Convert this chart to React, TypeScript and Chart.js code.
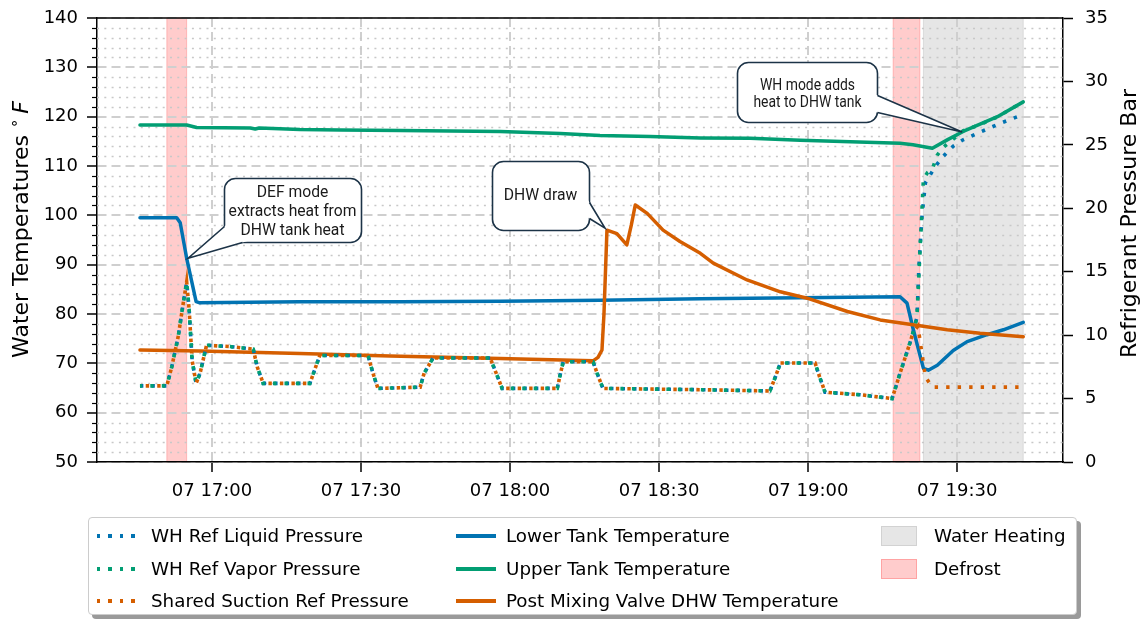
import React, { useEffect, useRef } from "react";
import { Chart, registerables } from "chart.js";

Chart.register(...registerables);

// ---------------- data (time = minutes after 16:00 on day 07) ----------------
const timeTicks = [60, 90, 120, 150, 180, 210];
const timeTickLabels = ["07 17:00", "07 17:30", "07 18:00", "07 18:30", "07 19:00", "07 19:30"];
const timeMin = 36.85;
const timeMax = 231.3;

const tempMin = 50;
const tempMax = 140;
const pressureMin = 0;
const pressureMax = 35;

// shared part of the three refrigerant pressure traces (bar)
const commonPressureTimes = [45.5, 50.9, 51.9, 53.2, 54.2, 54.9, 55.4, 56.0, 56.8, 57.6, 58.9, 63.6, 68.3, 69.1, 70.3, 79.7, 80.7, 81.7, 91.4, 92.4, 93.4, 101.9, 102.7, 104.5, 116.0, 117.2, 118.4, 129.5, 130.1, 130.7, 136.7, 137.7, 138.7, 158.3, 172.3, 173.4, 174.4, 181.4, 182.4, 183.4, 190.5, 196.9, 198.5, 200.5];
const commonPressure = [6.0, 6.0, 7.5, 9.9, 12.5, 14.2, 12.0, 8.0, 6.2, 7.0, 9.2, 9.1, 8.9, 7.5, 6.2, 6.2, 7.3, 8.4, 8.4, 7.0, 5.8, 5.9, 7.0, 8.2, 8.2, 7.0, 5.8, 5.8, 6.9, 7.9, 7.9, 6.8, 5.8, 5.7, 5.6, 6.7, 7.8, 7.8, 6.6, 5.5, 5.3, 5.0, 7.0, 9.4];

const liquidTailTimes = [201.1, 201.9, 202.3, 202.9, 203.6, 205.6, 207.2, 209.2, 211.2, 214.6, 218.7, 223.3];
const liquidTail = [10.2, 11.4, 15.4, 19.3, 22.0, 23.3, 24.1, 24.9, 25.4, 26.0, 26.7, 27.4];

const vaporTailTimes = [201.1, 201.9, 202.5, 203.2, 204.0, 205.0, 206.0, 207.2, 211.2, 214.6, 218.1, 223.3];
const vaporTail = [10.2, 11.4, 16.5, 22.3, 22.8, 23.1, 24.2, 24.8, 26.1, 26.6, 27.2, 28.4];

const suctionTailTimes = [201.1, 202.1, 203.6, 205.0, 223.3];
const suctionTail = [10.2, 10.7, 6.7, 5.9, 5.9];

// water temperatures (°F)
const lowerTankTimes = [45.5, 52.9, 53.6, 54.9, 56.8, 57.4, 77.7, 97.9, 118.0, 138.1, 158.3, 178.4, 198.5, 199.9, 201.2, 202.6, 203.2, 204.2, 206.0, 209.2, 212.0, 216.0, 219.3, 223.3];
const lowerTankTemp = [99.5, 99.5, 98.5, 91.3, 82.5, 82.3, 82.5, 82.5, 82.6, 82.8, 83.1, 83.3, 83.5, 82.2, 76.7, 71.3, 69.0, 68.6, 69.6, 72.6, 74.4, 75.8, 76.8, 78.3];

const upperTankTimes = [45.5, 54.9, 56.9, 67.7, 68.7, 69.5, 77.7, 85.8, 97.9, 118.0, 130.1, 138.1, 148.2, 158.3, 168.3, 178.4, 188.5, 198.5, 201.1, 205.0, 208.0, 211.2, 214.6, 218.1, 223.3];
const upperTankTemp = [118.3, 118.3, 117.8, 117.7, 117.5, 117.7, 117.4, 117.3, 117.2, 117.0, 116.6, 116.2, 116.0, 115.7, 115.6, 115.2, 114.9, 114.6, 114.3, 113.6, 115.3, 117.0, 118.5, 120.0, 123.0];

const postMixTimes = [45.5, 57.6, 77.7, 95.8, 118.0, 136.7, 137.7, 138.5, 138.9, 139.5, 141.5, 143.5, 144.4, 145.2, 147.6, 150.8, 154.2, 158.3, 160.9, 167.7, 174.4, 179.8, 187.9, 194.5, 201.1, 208.0, 214.6, 223.3];
const postMixTemp = [72.7, 72.5, 72.0, 71.5, 71.0, 70.5, 71.2, 72.7, 80.0, 97.0, 96.3, 94.0, 98.0, 102.1, 100.4, 97.0, 94.7, 92.3, 90.3, 86.9, 84.5, 83.2, 80.5, 78.8, 77.8, 76.8, 76.1, 75.4];

// operating-mode spans
const defrostStart = [50.9, 197.1];
const defrostEnd = [54.9, 202.5];
const waterHeatingStart = [203.2];
const waterHeatingEnd = [223.3];

// ---------------- styles ----------------
const BLUE = "#0173b2";
const GREEN = "#029e73";
const ORANGE = "#d55e00";
const TICK_FONT = "DejaVu Sans";
const CALLOUT_BORDER = "#1c3347";

const callouts = [
  { lines: ["DEF mode", "extracts heat from", "DHW tank heat"], t: 62.42, temp: 107.57, w: 137, h: 64, tipT: 55.2, tipTemp: 91.3, base: [[0, 48], [18, 64]], textX: 68, textY: [14, 33, 52], fontSize: 16.5, squeeze: 0.95 },
  { lines: ["DHW draw"], t: 116.38, temp: 111.01, w: 97, h: 69, tipT: 139.1, tipTemp: 97.4, base: [[97, 41], [97, 57]], textX: 48, textY: [34], fontSize: 16.5, squeeze: 0.95 },
  { lines: ["WH mode adds", "heat to DHW tank"], t: 165.7, temp: 131.08, w: 140, h: 60, tipT: 211.0, tipTemp: 116.9, base: [[140, 33], [140, 50]], textX: 70, textY: [23.7, 40.3], fontSize: 16, squeeze: 0.87 },
];

const pts = (ts: number[], vs: number[]) => ts.map((t, i) => ({ x: t, y: vs[i] }));

function roundRectPath(ctx: CanvasRenderingContext2D, x: number, y: number, w: number, h: number, r: number) {
  ctx.moveTo(x + r, y);
  ctx.lineTo(x + w - r, y);
  ctx.arcTo(x + w, y, x + w, y + r, r);
  ctx.lineTo(x + w, y + h - r);
  ctx.arcTo(x + w, y + h, x + w - r, y + h, r);
  ctx.lineTo(x + r, y + h);
  ctx.arcTo(x, y + h, x, y + h - r, r);
  ctx.lineTo(x, y + r);
  ctx.arcTo(x, y, x + r, y, r);
  ctx.closePath();
}

const decorPlugin = {
  id: "decor",
  beforeDraw(chart: any) {
    const { ctx, chartArea: a, scales } = chart;
    const xs = scales.x;
    ctx.save();
    const span = (s: number, e: number, color: string) => {
      const x0 = xs.getPixelForValue(s);
      const x1 = xs.getPixelForValue(e);
      ctx.fillStyle = color;
      ctx.fillRect(x0, a.top, x1 - x0, a.bottom - a.top);
      ctx.strokeStyle = color;
      ctx.lineWidth = 1;
      ctx.strokeRect(x0, a.top, x1 - x0, a.bottom - a.top);
    };
    waterHeatingStart.forEach((s, i) => span(s, waterHeatingEnd[i], "rgba(128,128,128,0.2)"));
    defrostStart.forEach((s, i) => span(s, defrostEnd[i], "rgba(255,0,0,0.2)"));
    ctx.restore();
  },
  beforeDatasetsDraw(chart: any) {
    const { ctx, chartArea: a, scales } = chart;
    const ys = scales.y;
    ctx.save();
    for (let v = tempMin + 2; v < tempMax; v += 2) {
      if (v % 10 === 0) continue;
      const y = Math.round(ys.getPixelForValue(v)) + 0.5;
      ctx.strokeStyle = "#c8c8c8";
      ctx.lineWidth = 1.3;
      ctx.setLineDash([2, 5.3]);
      ctx.beginPath();
      ctx.moveTo(a.left, y);
      ctx.lineTo(a.right, y);
      ctx.stroke();
      ctx.setLineDash([]);
      ctx.strokeStyle = "#000";
      ctx.lineWidth = 1.2;
      ctx.beginPath();
      ctx.moveTo(a.left - 5, y);
      ctx.lineTo(a.left, y);
      ctx.stroke();
    }
    ctx.restore();
  },
  afterDraw(chart: any) {
    const { ctx, chartArea: a, scales, width, height } = chart;
    const xs = scales.x;
    const ys = scales.y;
    ctx.save();
    // top spine
    ctx.strokeStyle = "#000";
    ctx.lineWidth = 1.5;
    ctx.beginPath();
    ctx.moveTo(a.left, a.top);
    ctx.lineTo(a.right, a.top);
    ctx.stroke();

    // left axis title
    ctx.fillStyle = "#000";
    ctx.textBaseline = "alphabetic";
    ctx.textAlign = "left";
    const mainFont = `22px "${TICK_FONT}"`;
    const supFont = `15px "${TICK_FONT}"`;
    const itFont = `italic 22px "${TICK_FONT}"`;
    const partA = "Water Temperatures ";
    const partB = "\u2218";
    const partC = "F";
    ctx.font = mainFont;
    const wA = ctx.measureText(partA).width;
    ctx.font = supFont;
    const wB = ctx.measureText(partB).width;
    ctx.font = itFont;
    const wC = ctx.measureText(partC).width;
    const gap = 5;
    const total = wA + wB + gap + wC;
    ctx.save();
    ctx.translate(28, 229.5);
    ctx.rotate(-Math.PI / 2);
    let cx = -total / 2;
    ctx.font = mainFont;
    ctx.fillText(partA, cx, 0);
    cx += wA;
    ctx.font = supFont;
    ctx.fillText(partB, cx, -9);
    cx += wB + gap;
    ctx.font = itFont;
    ctx.fillText(partC, cx, 0);
    ctx.restore();

    // right axis title
    ctx.save();
    ctx.font = mainFont;
    ctx.textAlign = "center";
    ctx.translate(1136, 223.5);
    ctx.rotate(-Math.PI / 2);
    ctx.fillText("Refrigerant Pressure Bar", 0, 0);
    ctx.restore();

    // callouts
    callouts.forEach((c) => {
      const bx = Math.round(xs.getPixelForValue(c.t)) + 0.5;
      const by = Math.round(ys.getPixelForValue(c.temp)) + 0.5;
      const tip = { x: xs.getPixelForValue(c.tipT), y: ys.getPixelForValue(c.tipTemp) };
      const b1 = { x: bx + c.base[0][0], y: by + c.base[0][1] };
      const b2 = { x: bx + c.base[1][0], y: by + c.base[1][1] };
      const ext = (b: { x: number; y: number }) => {
        const dx = b.x - tip.x;
        const dy = b.y - tip.y;
        const L = Math.hypot(dx, dy);
        return { x: b.x + (dx / L) * 8, y: b.y + (dy / L) * 8 };
      };
      const e1 = ext(b1);
      const e2 = ext(b2);
      ctx.fillStyle = "#fff";
      ctx.beginPath();
      roundRectPath(ctx, bx, by, c.w, c.h, 11);
      ctx.fill();
      ctx.beginPath();
      ctx.moveTo(tip.x, tip.y);
      ctx.lineTo(e1.x, e1.y);
      ctx.lineTo(e2.x, e2.y);
      ctx.closePath();
      ctx.fill();

      ctx.save();
      ctx.beginPath();
      ctx.rect(0, 0, width, height);
      ctx.moveTo(tip.x, tip.y);
      ctx.lineTo(e1.x, e1.y);
      ctx.lineTo(e2.x, e2.y);
      ctx.closePath();
      ctx.clip("evenodd");
      ctx.strokeStyle = CALLOUT_BORDER;
      ctx.lineWidth = 1.6;
      ctx.beginPath();
      roundRectPath(ctx, bx, by, c.w, c.h, 11);
      ctx.stroke();
      ctx.restore();

      ctx.strokeStyle = CALLOUT_BORDER;
      ctx.lineWidth = 1.6;
      ctx.lineJoin = "miter";
      ctx.beginPath();
      ctx.moveTo(b1.x, b1.y);
      ctx.lineTo(tip.x, tip.y);
      ctx.lineTo(b2.x, b2.y);
      ctx.stroke();

      ctx.fillStyle = "#1a1a1a";
      ctx.font = `${c.fontSize}px Roboto`;
      ctx.textAlign = "center";
      ctx.textBaseline = "middle";
      c.lines.forEach((line, i) => {
        ctx.save();
        ctx.translate(bx + c.textX, by + c.textY[i]);
        ctx.scale(c.squeeze, 1);
        ctx.fillText(line, 0, 0);
        ctx.restore();
      });
    });
    ctx.restore();
  },
};

const legendItems = [
  { label: "WH Ref Liquid Pressure", kind: "dot", color: BLUE, col: 0, row: 0 },
  { label: "WH Ref Vapor Pressure", kind: "dot", color: GREEN, col: 0, row: 1 },
  { label: "Shared Suction Ref Pressure", kind: "dot", color: ORANGE, col: 0, row: 2 },
  { label: "Lower Tank Temperature", kind: "line", color: BLUE, col: 1, row: 0 },
  { label: "Upper Tank Temperature", kind: "line", color: GREEN, col: 1, row: 1 },
  { label: "Post Mixing Valve DHW Temperature", kind: "line", color: ORANGE, col: 1, row: 2 },
  { label: "Water Heating", kind: "patch", color: "rgba(128,128,128,0.2)", col: 2, row: 0 },
  { label: "Defrost", kind: "patch", color: "rgba(255,0,0,0.2)", col: 2, row: 1 },
];

const colHandleX = [8, 367, 792];
const colTextX = [62, 417, 845];
const rowY = [18, 51, 83];

export default function App() {
  const canvasRef = useRef<HTMLCanvasElement | null>(null);

  useEffect(() => {
    const canvas = canvasRef.current;
    if (!canvas) return;
    const dotted = (offset: number) => ({
      borderWidth: 3.6,
      borderDash: [3.4, 8.1],
      borderDashOffset: offset,
      borderCapStyle: "butt" as const,
    });
    const solid = { borderWidth: 3.5, borderJoinStyle: "round" as const, borderCapStyle: "round" as const };

    const chart = new Chart(canvas, {
      type: "line",
      data: {
        datasets: [
          {
            label: "Shared Suction Ref Pressure",
            data: pts(commonPressureTimes.concat(suctionTailTimes), commonPressure.concat(suctionTail)),
            borderColor: ORANGE,
            yAxisID: "y2",
            ...dotted(5.75),
          },
          {
            label: "WH Ref Vapor Pressure",
            data: pts(commonPressureTimes.concat(vaporTailTimes), commonPressure.concat(vaporTail)),
            borderColor: GREEN,
            yAxisID: "y2",
            ...dotted(1.2),
          },
          {
            label: "WH Ref Liquid Pressure",
            data: pts(commonPressureTimes.concat(liquidTailTimes), commonPressure.concat(liquidTail)),
            borderColor: BLUE,
            yAxisID: "y2",
            ...dotted(0),
          },
          {
            label: "Post Mixing Valve DHW Temperature",
            data: pts(postMixTimes, postMixTemp),
            borderColor: ORANGE,
            yAxisID: "y",
            ...solid,
          },
          {
            label: "Upper Tank Temperature",
            data: pts(upperTankTimes, upperTankTemp),
            borderColor: GREEN,
            yAxisID: "y",
            ...solid,
          },
          {
            label: "Lower Tank Temperature",
            data: pts(lowerTankTimes, lowerTankTemp),
            borderColor: BLUE,
            yAxisID: "y",
            ...solid,
          },
        ],
      },
      options: {
        animation: false,
        responsive: false,
        devicePixelRatio: 1,
        events: [],
        layout: { padding: { left: 8, right: 0, top: 18, bottom: 0 } },
        elements: { point: { radius: 0 }, line: { tension: 0, fill: false } },
        plugins: { legend: { display: false }, tooltip: { enabled: false }, title: { display: false } },
        scales: {
          x: {
            type: "linear",
            min: timeMin,
            max: timeMax,
            afterBuildTicks: (scale: any) => {
              scale.ticks = timeTicks.map((v) => ({ value: v }));
            },
            afterFit: (scale: any) => {
              scale.height = 165;
            },
            ticks: {
              autoSkip: false,
              maxRotation: 0,
              padding: 9,
              color: "#000",
              font: { family: TICK_FONT, size: 18 },
              callback: (_v: any, i: number) => timeTickLabels[i],
            },
            grid: {
              color: "#cfcfcf",
              lineWidth: 2,
              tickLength: 10,
              tickColor: "#000",
              tickWidth: 1.5,
            },
            border: { display: true, color: "#000", width: 1.5, dash: [9, 5] },
          },
          y: {
            type: "linear",
            position: "left",
            min: tempMin,
            max: tempMax,
            afterFit: (scale: any) => {
              scale.width = 89;
            },
            ticks: {
              stepSize: 10,
              padding: 9,
              color: "#000",
              font: { family: TICK_FONT, size: 18, lineHeight: 0.6 },
            },
            grid: {
              color: "#cfcfcf",
              lineWidth: 2,
              tickLength: 10,
              tickColor: "#000",
              tickWidth: 1.5,
            },
            border: { display: true, color: "#000", width: 1.5, dash: [9, 5] },
          },
          y2: {
            type: "linear",
            position: "right",
            min: pressureMin,
            max: pressureMax,
            afterFit: (scale: any) => {
              scale.width = 80;
            },
            ticks: {
              stepSize: 5,
              padding: 12,
              color: "#000",
              font: { family: TICK_FONT, size: 18, lineHeight: 0.6 },
            },
            grid: {
              drawOnChartArea: false,
              tickLength: 10,
              tickColor: "#000",
              tickWidth: 1.5,
            },
            border: { display: true, color: "#000", width: 1.5 },
          },
        },
      },
      plugins: [decorPlugin],
    } as any);
    return () => chart.destroy();
  }, []);

  return (
    <div style={{ position: "absolute", left: 0, top: 0, width: 1143, height: 627, background: "#fff" }}>
      <canvas ref={canvasRef} width={1143} height={627} style={{ display: "block", position: "absolute", left: 0, top: 0 }} />
      <div
        style={{
          position: "absolute",
          left: 88,
          top: 517,
          width: 989,
          height: 98,
          boxSizing: "border-box",
          border: "1px solid #cccccc",
          borderRadius: 4,
          background: "#fff",
          boxShadow: "4px 4px 0 #9a9a9a",
          fontFamily: '"DejaVu Sans"',
          fontSize: 18.3,
          color: "#000",
        }}
      >
        {legendItems.map((it) => {
          const cy = rowY[it.row];
          let handle;
          if (it.kind === "dot") {
            handle = (
              <div
                style={{
                  position: "absolute",
                  left: colHandleX[it.col],
                  top: cy - 1.75,
                  width: 38,
                  height: 3.5,
                  background: `repeating-linear-gradient(90deg, ${it.color} 0px, ${it.color} 3.5px, transparent 3.5px, transparent 11.5px)`,
                }}
              />
            );
          } else if (it.kind === "line") {
            handle = (
              <div
                style={{
                  position: "absolute",
                  left: colHandleX[it.col],
                  top: cy - 1.75,
                  width: 40,
                  height: 3.5,
                  background: it.color,
                }}
              />
            );
          } else {
            handle = (
              <div
                style={{
                  position: "absolute",
                  left: colHandleX[it.col],
                  top: cy - 10,
                  width: 36,
                  height: 20,
                  boxSizing: "border-box",
                  background: it.color,
                  border: `1px solid ${it.color}`,
                }}
              />
            );
          }
          return (
            <React.Fragment key={it.label}>
              {handle}
              <div
                style={{
                  position: "absolute",
                  left: colTextX[it.col],
                  top: cy - 11,
                  height: 22,
                  lineHeight: "22px",
                  whiteSpace: "nowrap",
                }}
              >
                {it.label}
              </div>
            </React.Fragment>
          );
        })}
      </div>
    </div>
  );
}
